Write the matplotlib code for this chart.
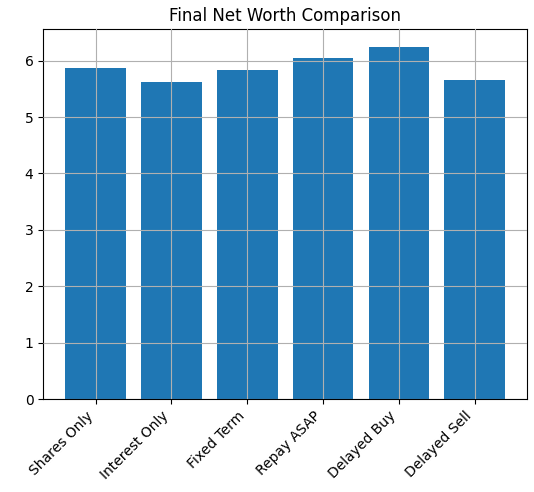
import matplotlib
matplotlib.use("Agg")
import matplotlib.pyplot as plt

strategies = ["Shares Only", "Interest Only", "Fixed Term", "Repay ASAP", "Delayed Buy", "Delayed Sell"]
net_worth = [5.876, 5.63, 5.84, 6.05, 6.25, 5.66]

fig, ax = plt.subplots(figsize=(5.34, 4.92), dpi=100)
fig.subplots_adjust(left=0.081, right=0.987, top=0.941, bottom=0.189)
ax.bar(strategies, net_worth, color="#1f77b4")
ax.set_title("Final Net Worth Comparison")
ax.grid(True)
ax.set_axisbelow(False)
plt.setp(ax.get_xticklabels(), rotation=45, ha="right")
fig.savefig("out.png", dpi=100)
